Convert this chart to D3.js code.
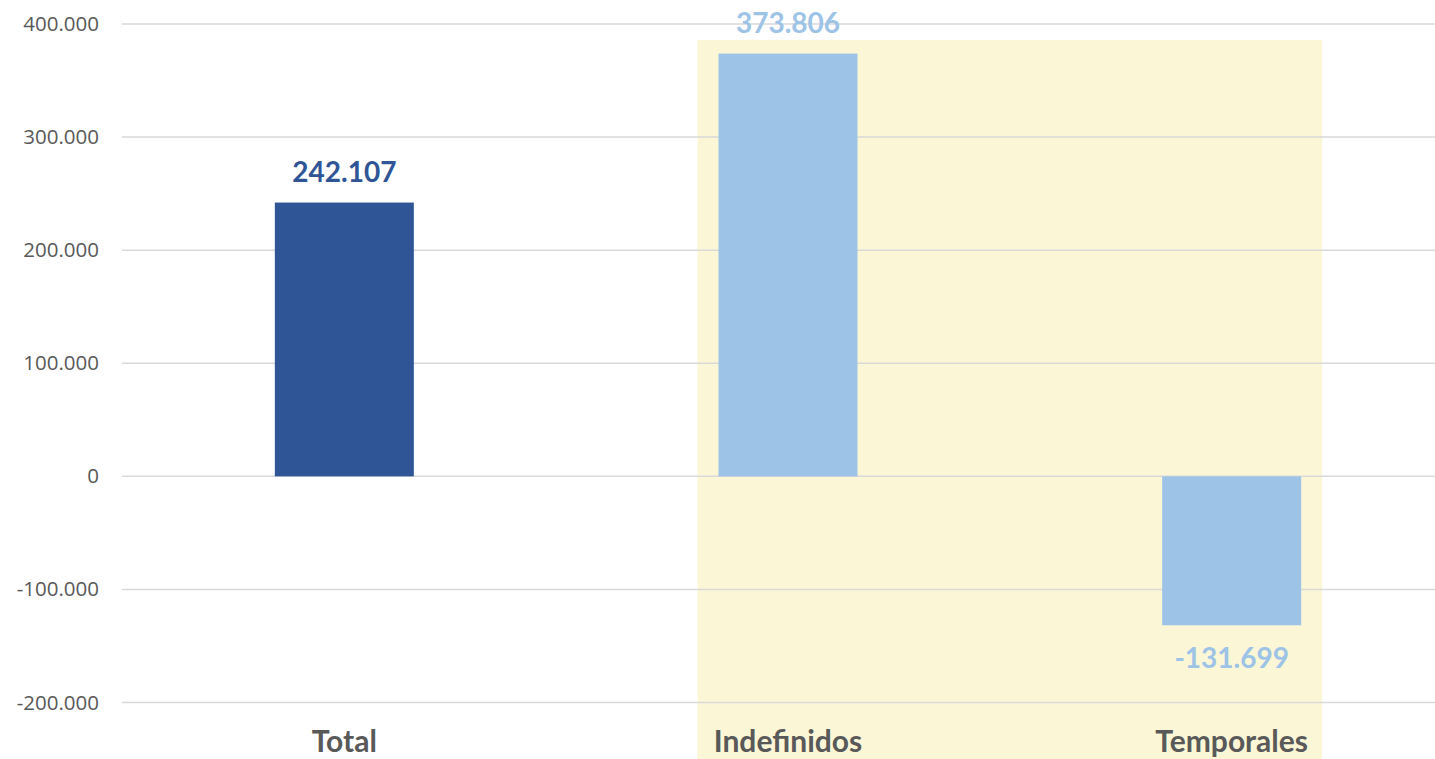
<!DOCTYPE html>
<html>
<head>
<meta charset="utf-8">
<script src="https://cdn.jsdelivr.net/npm/d3@7/dist/d3.min.js"></script>
<style>
  body { margin: 0; background: #fff; }
  svg { display: block; }
</style>
</head>
<body>
<div id="chart"></div>
<script>
// datos
var categorias = ["Total", "Indefinidos", "Temporales"];
var valores = [242107, 373806, -131699];
var colores = ["#2F5597", "#9DC3E6", "#9DC3E6"];
var ticksY = [-200000, -100000, 0, 100000, 200000, 300000, 400000];

var W = 1435, H = 759;
var fmt = function(v){
  return d3.format(",")(v).replace(/,/g, ".").replace("\u2212", "-");
};

var svg = d3.select("#chart").append("svg")
  .attr("width", W).attr("height", H);

var x = d3.scaleBand().domain(categorias).range([122.5, 1453.5]).paddingInner(0).paddingOuter(0);
var y = d3.scaleLinear().domain([-200000, 400000]).range([702.5, 24]);
var barW = 139;

// fondo amarillo (Indefinidos + Temporales)
var x0 = x("Indefinidos") + x.bandwidth()/2 - 90.5;
var x1 = x("Temporales") + x.bandwidth()/2 + 90.5;
svg.append("rect")
  .attr("x", x0)
  .attr("y", 40)
  .attr("width", x1 - x0)
  .attr("height", H - 40)
  .attr("fill", "#FBF6D6");

// rejilla
var grid = svg.append("g");
grid.selectAll("line").data(ticksY).enter().append("line")
  .attr("x1", 122).attr("x2", W)
  .attr("y1", function(d){ return y(d); })
  .attr("y2", function(d){ return y(d); })
  .attr("stroke", "#D9D9D9").attr("stroke-width", 1.5);

// eje y
var yAxis = d3.axisLeft(y).tickValues(ticksY).tickSize(0).tickPadding(0)
  .tickFormat(function(d){ return fmt(d); });
var gy = svg.append("g").attr("transform", "translate(99,0)").call(yAxis);
gy.select(".domain").remove();
gy.selectAll("text")
  .style("font-family", "'Open Sans', sans-serif")
  .style("font-size", "20.5px")
  .style("fill", "#595959");

// barras
svg.selectAll(".bar").data(valores).enter().append("rect")
  .attr("class", "bar")
  .attr("x", function(d, i){ return x(categorias[i]) + x.bandwidth()/2 - barW/2; })
  .attr("width", barW)
  .attr("y", function(d){ return d >= 0 ? y(d) : y(0); })
  .attr("height", function(d){ return Math.abs(y(d) - y(0)); })
  .attr("fill", function(d, i){ return colores[i]; });

// etiquetas de datos
svg.selectAll(".lbl").data(valores).enter().append("text")
  .attr("class", "lbl")
  .attr("x", function(d, i){ return x(categorias[i]) + x.bandwidth()/2; })
  .attr("y", function(d){ return d >= 0 ? y(d) - 21 : y(d) + 43; })
  .attr("text-anchor", "middle")
  .style("font-family", "Lato, sans-serif")
  .style("font-weight", "bold")
  .style("font-size", "28px")
  .style("fill", function(d, i){ return colores[i]; })
  .text(function(d){ return fmt(d); });

// categorias
svg.selectAll(".cat").data(categorias).enter().append("text")
  .attr("class", "cat")
  .attr("x", function(d){ return x(d) + x.bandwidth()/2; })
  .attr("y", 752)
  .attr("text-anchor", "middle")
  .style("font-family", "Lato, sans-serif")
  .style("font-weight", "bold")
  .style("font-size", "30px")
  .style("fill", "#595959")
  .text(function(d){ return d; });
</script>
</body>
</html>
